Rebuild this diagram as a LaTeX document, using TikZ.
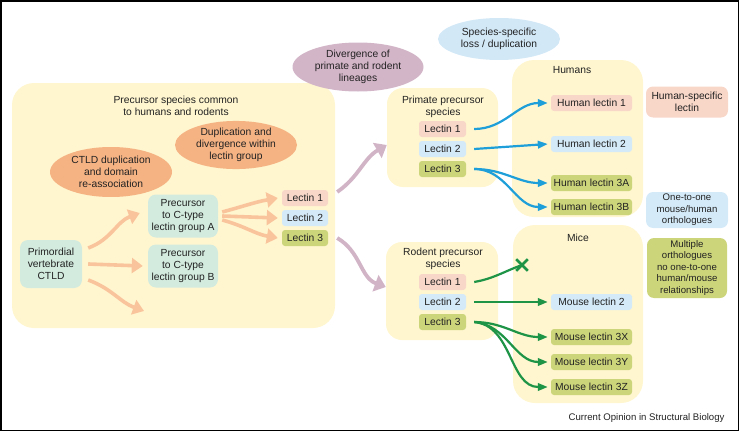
\documentclass[tikz,border=0pt]{standalone}
\usepackage{fontspec}
\setmainfont{Liberation Sans}
\usetikzlibrary{arrows.meta,shapes.geometric,shapes.misc}

\definecolor{paneltint}{HTML}{FFF6CF}
\definecolor{pinktint}{HTML}{F8D6C8}
\definecolor{bluetint}{HTML}{D4EAF8}
\definecolor{olivetint}{HTML}{CDD57A}
\definecolor{tealtint}{HTML}{D3EBDF}
\definecolor{orangetint}{HTML}{F5B384}
\definecolor{mauvetint}{HTML}{D3B5C8}
\definecolor{skytint}{HTML}{D2E8F7}
\definecolor{orangeflow}{HTML}{F9C49C}
\definecolor{mauveflow}{HTML}{D2B4C7}
\definecolor{blueflow}{HTML}{1E9FD9}
\definecolor{greenflow}{HTML}{1E9447}
\definecolor{inktext}{HTML}{222222}

\begin{document}
\begin{tikzpicture}[x = 1pt, y = -1pt, font = \fontsize{10.3}{12.2}\selectfont, text = inktext,
                    panel/.style = {fill = paneltint, rounded corners = 22pt, inner sep = 0pt},
                    gene/.style = {rounded corners = 3pt, minimum height = 16pt, inner sep = 0pt},
                    event/.style = {ellipse, inner sep = 0pt, align = center},
                    note/.style = {rounded corners = 7pt, inner sep = 0pt, align = center,
                                   font = \fontsize{9.6}{11.5}\selectfont},
                    orangearrow/.style = {draw = orangeflow, line width = 3.6pt,
                                          -{Triangle[length = 11pt, width = 15pt]}},
                    mauvearrow/.style = {draw = mauveflow, line width = 3.8pt,
                                         -{Triangle[length = 11pt, width = 17pt]}},
                    bluearrow/.style = {draw = blueflow, line width = 2.2pt,
                                        -{Triangle[length = 10pt, width = 7.5pt]}},
                    greenarrow/.style = {draw = greenflow, line width = 2.2pt,
                                         -{Triangle[length = 10pt, width = 7.5pt]}}]
      \useasboundingbox (0, 0) rectangle (739, 431);
      \draw [line width = 1.5pt] (0.75, 0.75) rectangle (738.25, 430.25);

      % panels
      \node [panel, minimum width = 323pt, minimum height = 245pt] (common) at (173.5, 205.5){};
      \node [panel, rounded corners = 16pt, minimum width = 111pt, minimum height = 99pt] (primate) at (442.5, 137.5){};
      \node [panel, rounded corners = 16pt, minimum width = 112pt, minimum height = 98pt] (rodent) at (442, 291){};
      \node [panel, minimum width = 131pt, minimum height = 157pt] (humans) at (577.5, 138.5){};
      \node [panel, minimum width = 130pt, minimum height = 178pt] (mice) at (578, 314){};

      \node [align = center] (commontitle) at (176, 106){Precursor species common\\to humans and rodents};
      \node [align = center] (primatetitle) at (443, 106.5){Primate precursor\\species};
      \node [align = center] (rodenttitle) at (443, 259){Rodent precursor\\species};
      \node (humanstitle) at (572, 70){Humans};
      \node (micetitle) at (578, 238){Mice};

      % events
      \node [event, fill = orangetint, minimum width = 122pt, minimum height = 47pt] (dupl) at (236, 145){Duplication and\\divergence within\\lectin group};
      \node [event, fill = orangetint, minimum width = 122pt, minimum height = 50pt] (ctld) at (111, 172){CTLD duplication\\and domain\\re-association};
      \node [event, fill = mauvetint, minimum width = 131pt, minimum height = 49pt] (diverge) at (358, 67){Divergence of\\primate and rodent\\lineages};
      \node [event, fill = skytint, minimum width = 122pt, minimum height = 42pt] (loss) at (499, 39){Species-specific\\loss / duplication};

      % common ancestor
      \node [fill = tealtint, rounded corners = 8pt, align = center, minimum width = 62pt, minimum height = 48pt, inner sep = 0pt] (primordial) at (51, 264){Primordial\\vertebrate\\CTLD};
      \node [fill = tealtint, rounded corners = 8pt, align = center, minimum width = 70pt, minimum height = 43pt, inner sep = 0pt] (groupA) at (183, 216){Precursor\\to C-type\\lectin group A};
      \node [fill = tealtint, rounded corners = 8pt, align = center, minimum width = 70pt, minimum height = 43pt, inner sep = 0pt] (groupB) at (183, 266){Precursor\\to C-type\\lectin group B};
      \coordinate (groupC) at (144, 311);
      \node [gene, fill = pinktint, minimum width = 46pt] (ll1) at (305, 198){Lectin 1};
      \node [gene, fill = bluetint, minimum width = 46pt] (ll2) at (305, 218){Lectin 2};
      \node [gene, fill = olivetint, minimum width = 46pt] (ll3) at (305, 238){Lectin 3};

      % primate and rodent
      \node [gene, fill = pinktint, minimum width = 47pt] (pl1) at (442.5, 129){Lectin 1};
      \node [gene, fill = bluetint, minimum width = 47pt] (pl2) at (442.5, 149){Lectin 2};
      \node [gene, fill = olivetint, minimum width = 47pt] (pl3) at (442.5, 169){Lectin 3};
      \node [gene, fill = pinktint, minimum width = 47pt] (rl1) at (442.5, 282){Lectin 1};
      \node [gene, fill = bluetint, minimum width = 47pt] (rl2) at (442.5, 302){Lectin 2};
      \node [gene, fill = olivetint, minimum width = 47pt] (rl3) at (442.5, 322){Lectin 3};

      % humans and mice
      \node [gene, fill = pinktint, minimum width = 81pt] (hl1) at (591.5, 103){Human lectin 1};
      \node [gene, fill = bluetint, minimum width = 81pt] (hl2) at (591.5, 144){Human lectin 2};
      \node [gene, fill = olivetint, minimum width = 81pt] (hl3a) at (591.5, 183){Human lectin 3A};
      \node [gene, fill = olivetint, minimum width = 81pt] (hl3b) at (591.5, 207){Human lectin 3B};
      \node [gene, fill = bluetint, minimum width = 81pt] (ml2) at (591.5, 302){Mouse lectin 2};
      \node [gene, fill = olivetint, minimum width = 81pt] (ml3x) at (591.5, 337){Mouse lectin 3X};
      \node [gene, fill = olivetint, minimum width = 81pt] (ml3y) at (591.5, 362){Mouse lectin 3Y};
      \node [gene, fill = olivetint, minimum width = 81pt] (ml3z) at (591.5, 387){Mouse lectin 3Z};
      \node [cross out, draw = greenflow, line width = 2.6pt, minimum size = 9pt, inner sep = 0pt] (lost) at (522, 265){};

      % key
      \node [note, fill = pinktint, minimum width = 82pt, minimum height = 31pt, font = \fontsize{10.3}{12.2}\selectfont] (hspec) at (687, 102){Human-specific\\lectin};
      \node [note, fill = bluetint, minimum width = 82pt, minimum height = 36pt] (onetoone) at (687, 210){One-to-one\\mouse/human\\orthologues};
      \node [note, fill = olivetint, minimum width = 80pt, minimum height = 60pt] (multi) at (687, 268){Multiple\\orthologues\\no one-to-one\\human/mouse\\relationships};

      \node [anchor = east, font = \fontsize{9.6}{11}\selectfont] (credit) at (728, 418){Current Opinion in Structural Biology};

      % arrows
      \draw [orangearrow] ([xshift = 6pt, yshift = 16pt]primordial.east) to [out = 20, in = 200] ([xshift = -8pt, yshift = 3pt]groupA.west);
      \draw [orangearrow] ([xshift = 6pt]primordial.east) -- ([xshift = -5pt]groupB.west);
      \draw [orangearrow] ([xshift = 6pt, yshift = -16pt]primordial.east) to [out = -20, in = 160] (groupC);
      \draw [orangearrow] ([xshift = 4pt, yshift = 4pt]groupA.east) to [out = 15, in = 190] ([xshift = -4pt]ll1.west);
      \draw [orangearrow] ([xshift = 4pt]groupA.east) -- ([xshift = -4pt]ll2.west);
      \draw [orangearrow] ([xshift = 4pt, yshift = -4pt]groupA.east) to [out = -15, in = 170] ([xshift = -4pt]ll3.west);

      \draw [mauvearrow] ([xshift = 9pt, yshift = 6pt]ll1.east) to [out = 35, in = 210] ([yshift = -7.5pt]primate.west);
      \draw [mauvearrow] ([xshift = 9pt]ll3.east) to [out = -30, in = 160] ([yshift = 4pt]rodent.west);

      \draw [bluearrow] ([xshift = 8pt]pl1.east) to [out = 0, in = 180] ([xshift = -3pt]hl1.west);
      \draw [bluearrow] ([xshift = 8pt]pl2.east) -- ([xshift = -3pt]hl2.west);
      \draw [bluearrow] ([xshift = 8pt]pl3.east) to [out = 0, in = 180] ([xshift = -3pt]hl3a.west);
      \draw [bluearrow] ([xshift = 8pt]pl3.east) to [out = 0, in = 180] ([xshift = -3pt]hl3b.west);

      \draw [draw = greenflow, line width = 2.2pt] ([xshift = 8pt]rl1.east) to [out = 10, in = 200] (lost.center);
      \draw [greenarrow] ([xshift = 8pt]rl2.east) -- ([xshift = -3pt]ml2.west);
      \draw [greenarrow] ([xshift = 8pt]rl3.east) to [out = 0, in = 180] ([xshift = -3pt]ml3x.west);
      \draw [greenarrow] ([xshift = 8pt]rl3.east) to [out = -5, in = 180] ([xshift = -3pt]ml3y.west);
      \draw [greenarrow] ([xshift = 8pt]rl3.east) to [out = -5, in = 180] ([xshift = -3pt]ml3z.west);
    \end{tikzpicture}
\end{document}
